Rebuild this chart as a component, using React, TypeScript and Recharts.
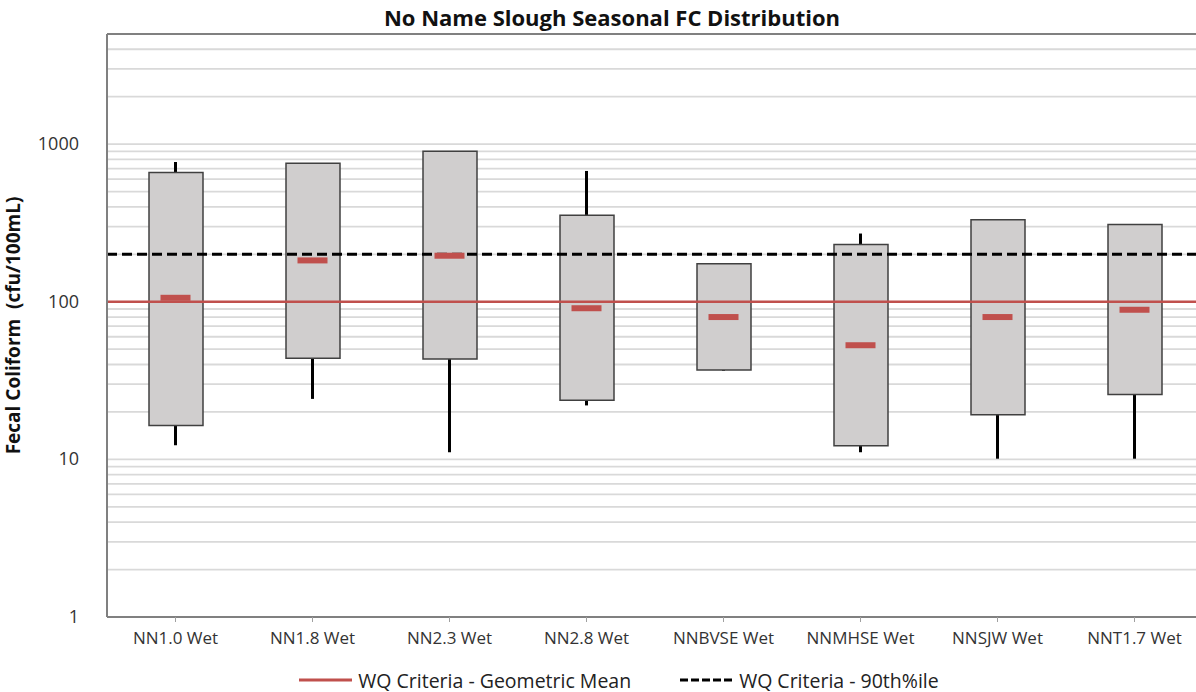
import {
  ComposedChart,
  Bar,
  Scatter,
  XAxis,
  YAxis,
  CartesianGrid,
  ReferenceLine,
  Legend,
} from 'recharts';

// stations (wet season)
const stations = [
  'NN1.0 Wet',
  'NN1.8 Wet',
  'NN2.3 Wet',
  'NN2.8 Wet',
  'NNBVSE Wet',
  'NNMHSE Wet',
  'NNSJW Wet',
  'NNT1.7 Wet',
];

// fecal coliform, cfu/100mL
const whiskerMin = [12.3, 24.2, 11.1, 22.0, 36.5, 11.1, 10.1, 10.1];
const boxLow = [16.4, 43.8, 43.4, 23.7, 36.9, 12.2, 19.2, 25.8];
const medians = [106, 183, 196, 91, 80, 53, 80, 89];
const boxHigh = [661, 757, 902, 354, 174, 231, 332, 309];
const whiskerMax = [771, 757, 902, 676, 174, 271, 332, 309];

const geoMeanCriteria = 100;
const pct90Criteria = 200;

const yTicks = [
  1, 2, 3, 4, 5, 6, 7, 8, 9,
  10, 20, 30, 40, 50, 60, 70, 80, 90,
  100, 200, 300, 400, 500, 600, 700, 800, 900,
  1000, 2000, 3000, 4000, 5000,
];
const yLabelTicks = [1, 10, 100, 1000];

const chartData = stations.map((name, i) => ({
  name,
  box: [boxLow[i], boxHigh[i]],
  whisker: [whiskerMin[i], whiskerMax[i]],
  median: medians[i],
}));

const FONT = '"Open Sans", Lato, sans-serif';
const RED = '#c0504d';

const YTick = (props: any) => {
  const { x, y, payload } = props;
  if (!yLabelTicks.includes(payload.value)) return <g />;
  return (
    <text x={x} y={y} dy={6} textAnchor="end" fontSize={18} fill="#333" fontFamily={FONT}>
      {payload.value}
    </text>
  );
};

const MedianMark = (props: any) => {
  const { cx, cy } = props;
  return <rect x={cx - 15} y={cy - 3} width={30} height={6} fill={RED} />;
};

const LegendBox = () => (
  <div
    style={{
      display: 'flex',
      justifyContent: 'center',
      alignItems: 'center',
      gap: 48,
      paddingTop: 21,
      paddingLeft: 34,
      height: 24,
      fontFamily: FONT,
      fontSize: 19.5,
      color: '#222',
    }}
  >
    <div style={{ display: 'flex', alignItems: 'center' }}>
      <svg width={56} height={10}>
        <line x1={1} y1={5} x2={54} y2={5} stroke={RED} strokeWidth={3} />
      </svg>
      <span style={{ marginLeft: 4 }}>WQ Criteria - Geometric Mean</span>
    </div>
    <div style={{ display: 'flex', alignItems: 'center' }}>
      <svg width={56} height={10}>
        <line x1={1} y1={5} x2={54} y2={5} stroke="#000" strokeWidth={3} strokeDasharray="8 3" />
      </svg>
      <span style={{ marginLeft: 4 }}>WQ Criteria - 90th%ile</span>
    </div>
  </div>
);

export default function App() {
  return (
    <div style={{ position: 'absolute', left: 0, top: 0, width: 1196, height: 692, overflow: 'hidden', background: '#fff' }}>
      <div
        style={{
          position: 'absolute',
          top: 2,
          left: 0,
          width: 1224,
          textAlign: 'center',
          fontFamily: FONT,
          fontWeight: 700,
          fontSize: 22,
          lineHeight: '30px',
          color: '#111',
        }}
      >
        No Name Slough Seasonal FC Distribution
      </div>
      <ComposedChart
        width={1204}
        height={692}
        data={chartData}
        margin={{ top: 34, right: 1, left: 0, bottom: 0 }}
      >
        <CartesianGrid vertical={false} stroke="#d9d9d9" strokeWidth={1.8} />
        <XAxis
          dataKey="name"
          axisLine={{ stroke: '#808080', strokeWidth: 2 }}
          tickLine={{ stroke: '#a0a0a0' }}
          tickSize={5}
          tickMargin={10}
          height={30}
          interval={0}
          tick={{ fontSize: 17, fill: '#333', fontFamily: FONT }}
        />
        <XAxis xAxisId="w" dataKey="name" hide />
        <YAxis
          scale="log"
          domain={[1, 5000]}
          ticks={yTicks}
          interval={0}
          allowDataOverflow
          width={107}
          axisLine={{ stroke: '#808080', strokeWidth: 2 }}
          tickLine={false}
          tickMargin={22}
          tick={<YTick />}
          label={{
            value: 'Fecal Coliform \u00a0(cfu/100mL)',
            angle: -90,
            position: 'insideLeft',
            offset: 13,
            style: { textAnchor: 'middle', fontSize: 19, fontWeight: 700, fill: '#111', fontFamily: FONT },
          }}
        />
        <ReferenceLine y={5000} stroke="#808080" strokeWidth={2} />
        <Legend verticalAlign="bottom" content={<LegendBox />} />
        <Bar xAxisId="w" dataKey="whisker" barSize={3} fill="#000" isAnimationActive={false} />
        <Bar
          dataKey="box"
          barSize={54}
          fill="#d0cece"
          stroke="#404040"
          strokeWidth={1.5}
          isAnimationActive={false}
        />
        <ReferenceLine y={geoMeanCriteria} stroke={RED} strokeWidth={2.5} />
        <ReferenceLine y={pct90Criteria} stroke="#000" strokeWidth={3} strokeDasharray="10 5" />
        <Scatter dataKey="median" shape={<MedianMark />} isAnimationActive={false} />
      </ComposedChart>
    </div>
  );
}
